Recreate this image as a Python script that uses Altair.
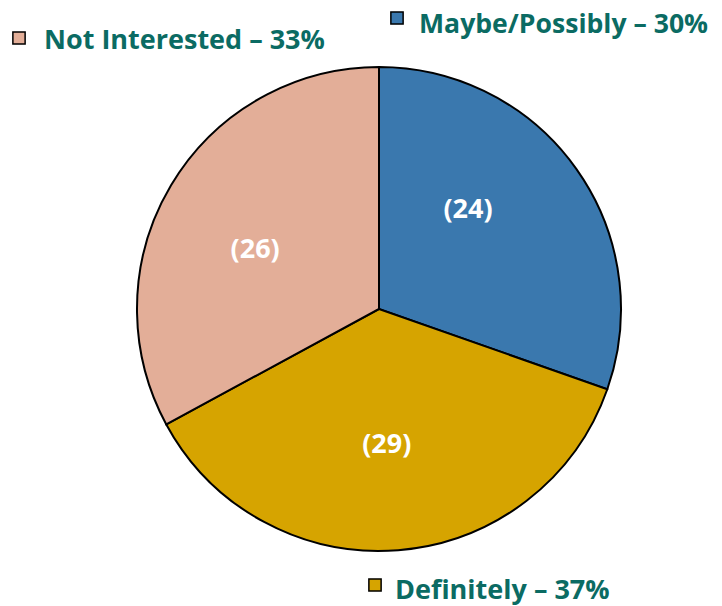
import altair as alt
import pandas as pd

categories = ["Maybe/Possibly", "Definitely", "Not Interested"]
counts = [24, 29, 26]
percents = [30, 37, 33]
colors = ["#3a78ae", "#d6a400", "#e3ae98"]
order = [1, 2, 3]

df = pd.DataFrame({
    "cat": categories,
    "count": counts,
    "pct": percents,
    "ord": order,
})
df["slice_label"] = ["(" + str(c) + ")" for c in counts]
df["legend_label"] = [f"{c} \u2013 {p}%" for c, p in zip(categories, percents)]

CX, CY, R = 371, 301, 242
FONT = "Open Sans"
TEAL = "#0b6b63"

color_scale = alt.Scale(domain=categories, range=colors)

base = alt.Chart(df).encode(
    theta=alt.Theta("count:Q", stack=True),
    order=alt.Order("ord:Q"),
)

pie = base.mark_arc(stroke="black", strokeWidth=2, radius=R).encode(
    color=alt.Color("cat:N", scale=color_scale, legend=None),
    x=alt.value(CX), y=alt.value(CY),
)

nudges = {
    "Maybe/Possibly": (-22, -20),
    "Definitely": (-3, 0),
    "Not Interested": (-7, 11),
}
layers = [pie]
for cat, (ddx, ddy) in nudges.items():
    layers.append(
        base.mark_text(
            radius=136, font=FONT, fontWeight="bold", fontSize=27, color="white",
            baseline="middle", align="center", dx=ddx, dy=ddy,
        ).encode(
            text="slice_label:N",
            x=alt.value(CX), y=alt.value(CY),
            opacity=alt.condition(alt.datum.cat == cat, alt.value(1), alt.value(0)),
        )
    )

spots = {
    "Not Interested": dict(sx=11, sy=30, tx=36, ty=41, fs=27),
    "Maybe/Possibly": dict(sx=389, sy=10, tx=411, ty=25, fs=26.6),
    "Definitely": dict(sx=367, sy=577, tx=387, ty=591, fs=27),
}

for cat, p in spots.items():
    sub = alt.Chart(df).transform_filter(alt.datum.cat == cat)
    layers.append(
        sub.mark_square(size=150, stroke="black", strokeWidth=1.5, opacity=1).encode(
            x=alt.value(p["sx"]), y=alt.value(p["sy"]),
            fill=alt.Fill("cat:N", scale=color_scale, legend=None),
        )
    )
    layers.append(
        sub.mark_text(font=FONT, fontWeight="bold", fontSize=p["fs"], color=TEAL,
                      align="left", baseline="alphabetic").encode(
            x=alt.value(p["tx"]), y=alt.value(p["ty"]),
            text="legend_label:N",
        )
    )

chart = alt.layer(*layers).properties(
    width=706, height=598, autosize=alt.AutoSizeParams(type="none"), padding=0,
).configure_view(stroke=None)

chart.save("out.html", embed_options={"renderer": "svg", "actions": False})
